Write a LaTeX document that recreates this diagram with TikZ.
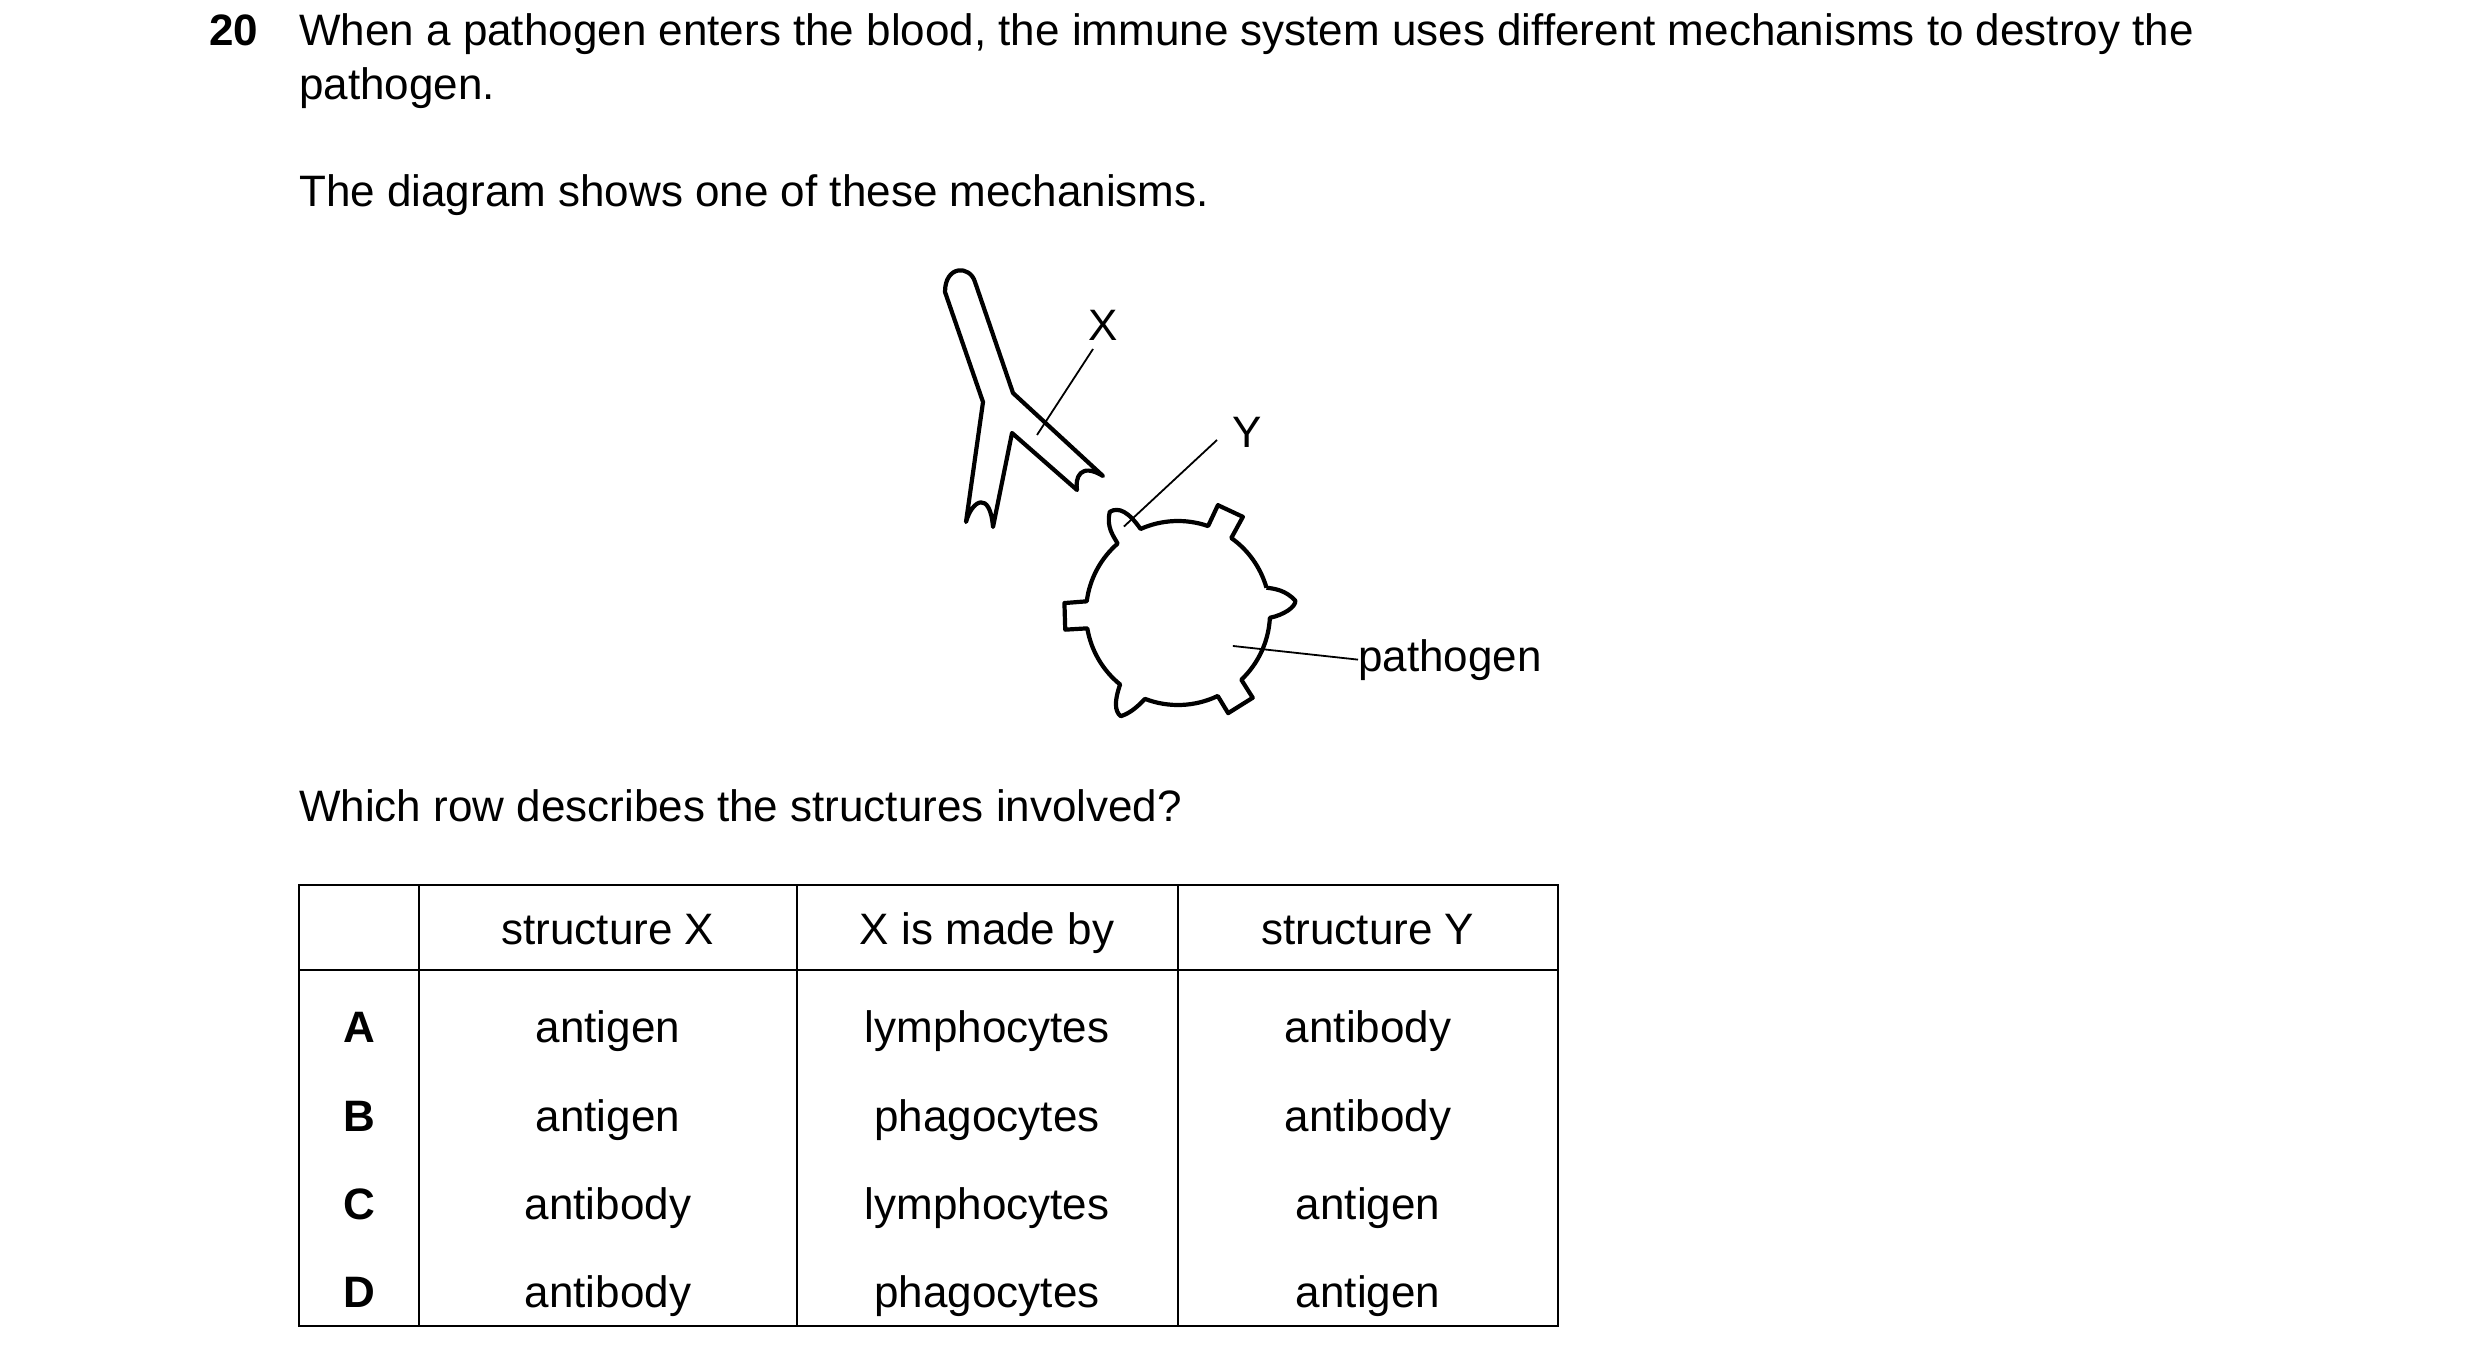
\documentclass[tikz,border=0pt]{standalone}
\usepackage{fontspec}
\setmainfont{Liberation Sans}
\begin{document}
\begin{tikzpicture}[x=1pt,y=-1pt,
  txt/.style={inner sep=0pt,font=\fontsize{44}{53}\selectfont},
  ol/.style={line width=4.2pt,line join=round},
  lab/.style={line width=1.8pt},
  tab/.style={line width=2pt}]
\useasboundingbox (0,0) rectangle (2480,1354);
\fill[white] (0,0) rectangle (2480,1354);
% question
\node[txt,anchor=base west,font=\fontsize{44}{53}\selectfont\bfseries] (num) at (209,46) {20};
\node[txt,anchor=base west] (q1) at (299,46) {When a pathogen enters the blood, the immune system uses different mechanisms to destroy the};
\node[txt,anchor=base west] (q2) at (299,99) {pathogen.};
\node[txt,anchor=base west] (q3) at (299,206) {The diagram shows one of these mechanisms.};
\node[txt,anchor=base west] (q4) at (299,821) {Which row describes the structures involved?};
% antibody
\draw[ol] (983,402) -- (966,522) .. controls (972,500) and (990,490) .. (993,527)
  -- (1012,433) -- (1077,490) .. controls (1075,478) and (1080,462) .. (1103,476)
  -- (1013,393) -- (975,282) .. controls (970,265) and (945,265) .. (945,292) -- cycle;
% pathogen
\begin{scope}[shift={(1178,613)},y=1pt]
\draw[ol] (16:92) arc (16:54.6:92) -- (56:116) -- (69.7:115) -- (70.9:92)
  arc (70.9:114:92) .. controls (116:112) and (119:122) .. (124:122)
  .. controls (130:112) and (130:100) .. (131:92)
  arc (131:172.7:92) -- (175:114) -- (188.4:114) -- (189.6:92)
  arc (189.6:231:92) .. controls (234:108) and (237:117) .. (241:118)
  .. controls (245:110) and (247:100) .. (249:92)
  arc (249:295.6:92) -- (296.6:112) -- (311.4:113) -- (313.5:92)
  arc (313.5:357:92) .. controls (359:106) and (3:118) .. (6:118)
  .. controls (12:110) and (14:100) .. (16:92);
\coordinate (ytip) at (122:102);
\coordinate (ptip) at (-31:64);
\end{scope}
% labels
\coordinate (xa) at (1093,349);
\coordinate (xb) at (1037,435);
\draw[lab] (xa) -- (xb);
\node[txt] (X) at (1103,325) {X};
\coordinate (ya) at (1217,440);
\draw[lab] (ya) -- (ytip);
\node[txt] (Y) at (1247,432) {Y};
\node[txt,anchor=base west] (pat) at (1358,671) {pathogen};
\draw[lab] (ptip) -- (pat.west);
% table
\draw[tab] (299,885) rectangle (1558,1326);
\draw[tab] (299,970) -- (1558,970);
\foreach \x in {419,797,1178} \draw[tab] (\x,885) -- (\x,1326);
\node[txt,anchor=base] (h1) at (608,944) {structure X};
\node[txt,anchor=base] (h2) at (987,944) {X is made by};
\node[txt,anchor=base] (h3) at (1368,944) {structure Y};
\foreach \l/\a/\b/\c/\y in {A/antigen/lymphocytes/antibody/1042,B/antigen/phagocytes/antibody/1131,C/antibody/lymphocytes/antigen/1219,D/antibody/phagocytes/antigen/1307}{
  \node[txt,anchor=base,font=\fontsize{44}{53}\selectfont\bfseries] (r\l) at (359,\y) {\l};
  \node[txt,anchor=base] (a\l) at (608,\y) {\a};
  \node[txt,anchor=base] (b\l) at (987,\y) {\b};
  \node[txt,anchor=base] (c\l) at (1368,\y) {\c};
}
\end{tikzpicture}
\end{document}
